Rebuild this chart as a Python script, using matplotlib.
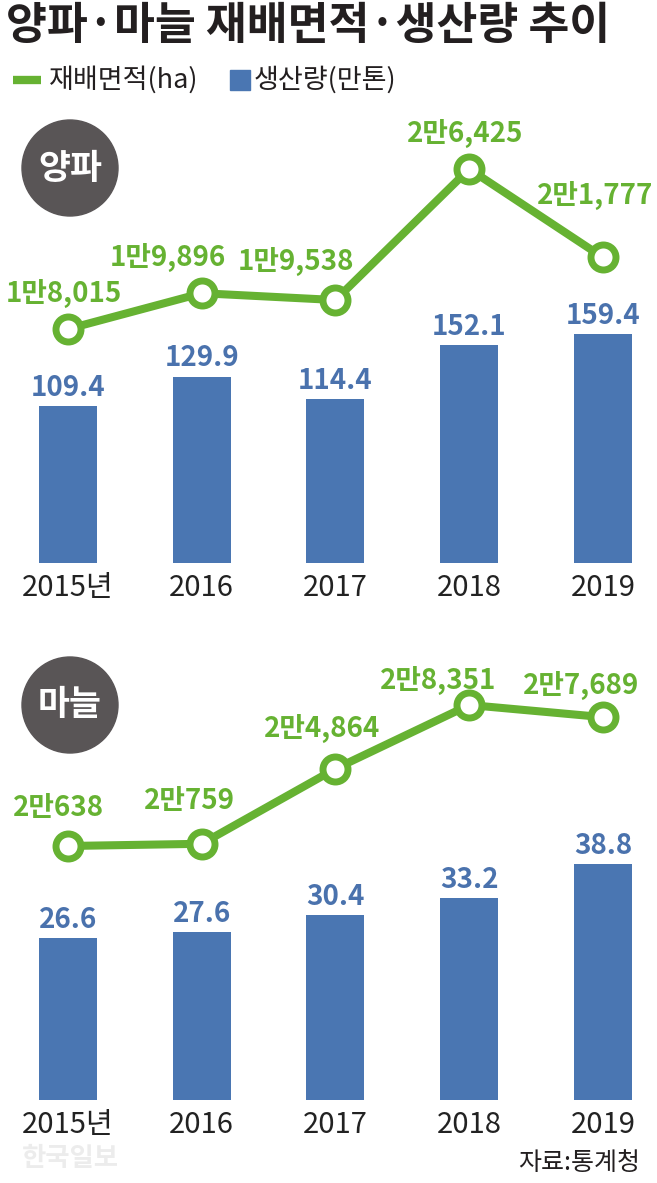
import matplotlib
matplotlib.use("Agg")
import matplotlib.pyplot as plt
from matplotlib.lines import Line2D
from matplotlib.patches import Rectangle, Ellipse

plt.rcParams['font.family'] = ['Noto Sans CJK KR', 'DejaVu Sans']

# 데이터
years = ['2015년', '2016', '2017', '2018', '2019']
onion_area = [18015, 19896, 19538, 26425, 21777]
onion_area_labels = ['1만8,015', '1만9,896', '1만9,538', '2만6,425', '2만1,777']
onion_prod = [109.4, 129.9, 114.4, 152.1, 159.4]
garlic_area = [20638, 20759, 24864, 28351, 27689]
garlic_area_labels = ['2만638', '2만759', '2만4,864', '2만8,351', '2만7,689']
garlic_prod = [26.6, 27.6, 30.4, 33.2, 38.8]

GREEN = '#66b232'
BLUE = '#4a76b2'
BLUE_TXT = '#4a72ad'
DARK = '#595556'

W, H = 657, 1183
fig = plt.figure(figsize=(W / 100, H / 100), dpi=100)


def px_ax(top, bottom):
    return fig.add_axes([0, (H - bottom) / H, 1, (bottom - top) / H])


def draw_panel(top, bottom, prod, bar_lim, area, area_lim, area_labels, offsets, badge, badge_y):
    ax = px_ax(top, bottom)
    x = list(range(len(years)))
    ax.bar(x, prod, width=0.434, color=BLUE, zorder=1)
    for xi, v in zip(x, prod):
        ax.annotate(f'{v}', (xi, v), xytext=(0, 3), textcoords='offset points',
                    ha='center', va='bottom', fontsize=20, color=BLUE_TXT,
                    fontweight='bold')
    ax.set_xlim(-0.508, 4.404)
    ax.set_ylim(*bar_lim)
    ax.set_xticks(x, years)
    ax.tick_params(axis='x', length=0, pad=7, labelsize=21, colors='#222222')
    ax.set_yticks([])
    for s in ax.spines.values():
        s.set_visible(False)

    ax2 = ax.twinx()
    ax2.plot(x, area, color=GREEN, linewidth=5.8, marker='o', markersize=18,
             markerfacecolor='white', markeredgecolor=GREEN, markeredgewidth=5,
             zorder=3, solid_capstyle='round')
    for xi, v, lab, (dx, dy) in zip(x, area, area_labels, offsets):
        ax2.annotate(lab, (xi, v), xytext=(dx * 0.72, dy * 0.72), textcoords='offset points',
                     ha='center', va='center', fontsize=20, color=GREEN,
                     fontweight='bold')
    ax2.set_ylim(*area_lim)
    ax2.set_yticks([])
    for s in ax2.spines.values():
        s.set_visible(False)

    # 원형 배지
    fig.add_artist(Ellipse((70 / W, 1 - badge_y / H), 96 / W, 96 / H,
                           transform=fig.transFigure, color=DARK, zorder=5))
    fig.text(70 / W, 1 - badge_y / H, badge, ha='center', va='center', color='white',
             fontsize=25, fontweight='bold', zorder=6)
    return ax


# 양파
draw_panel(110, 563, onion_prod, (0, 315.7), onion_area, (5715, 29526), onion_area_labels,
           [(-4, 36), (-34, 36), (-40, 39), (-4, 36), (-8, 62)], '양파', 168)
# 마늘
draw_panel(650, 1100, garlic_prod, (0, 73.9), garlic_area, (6743, 31360), garlic_area_labels,
           [(-9, 38), (-12, 43), (-13, 40), (-31, 25), (-22, 32)], '마늘', 705)

# 제목
fig.text(6 / W, 1 - 26 / H, '양파·마늘 재배면적·생산량 추이', ha='left', va='center',
         fontsize=32, fontweight='bold', color='#231f20')

# 범례
ly = 1 - 80 / H
fig.add_artist(Line2D([13 / W, 41 / W], [ly, ly], color=GREEN, linewidth=6,
                      solid_capstyle='butt', transform=fig.transFigure))
fig.text(49 / W, ly, '재배면적(ha)', ha='left', va='center', fontsize=19.5, color='#231f20')
fig.add_artist(Rectangle((230 / W, 1 - 90 / H), 20 / W, 20 / H, color=BLUE,
                         transform=fig.transFigure))
fig.text(254 / W, ly, '생산량(만톤)', ha='left', va='center', fontsize=19.5, color='#231f20')

# 워터마크, 출처
fig.text(70 / W, 1 - 1158 / H, '한국일보', ha='center', va='center', fontsize=19,
         fontweight='bold', color='#ececec')
fig.text(640 / W, 1 - 1163 / H, '자료:통계청', ha='right', va='center', fontsize=18,
         color='#231f20')

fig.savefig('out.png', dpi=100)
